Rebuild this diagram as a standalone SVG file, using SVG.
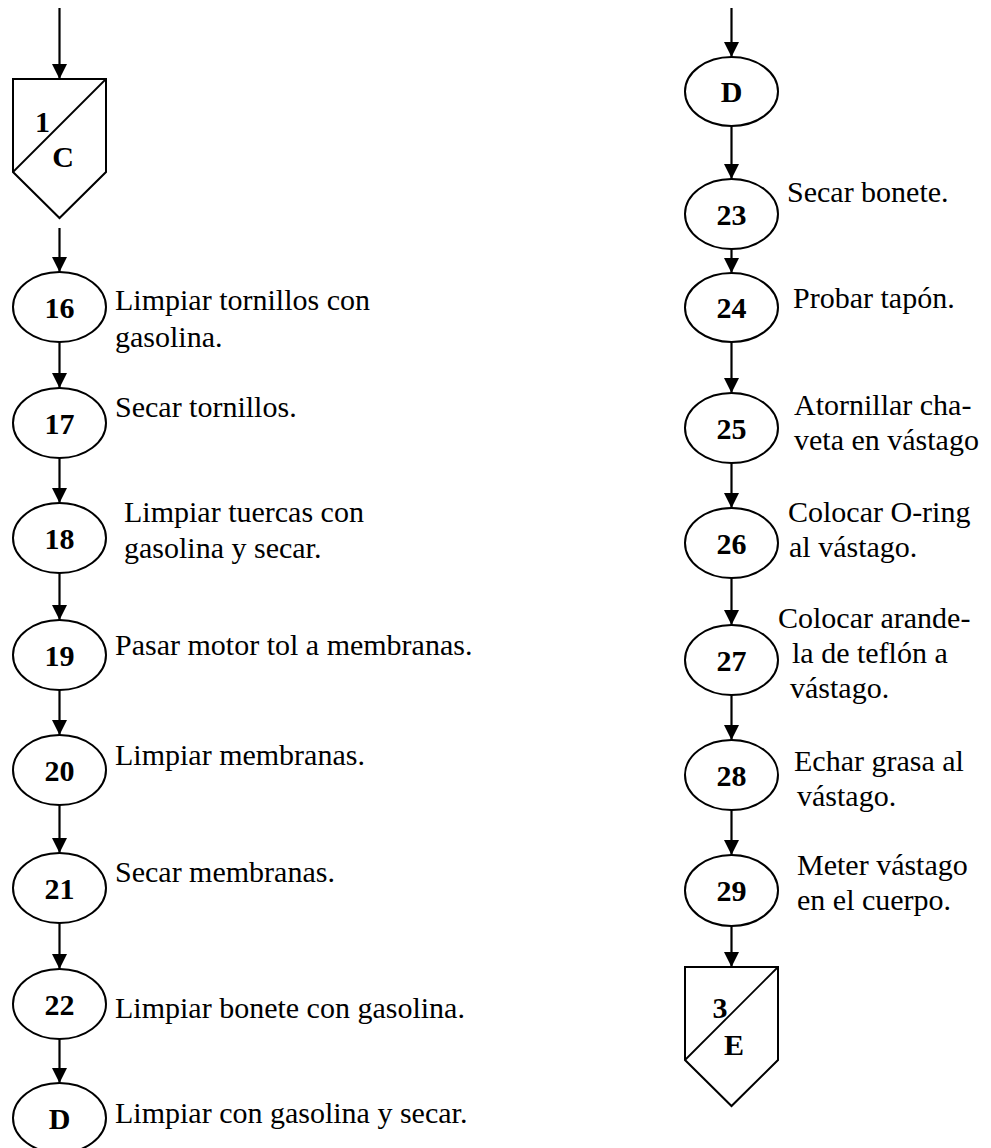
<svg xmlns="http://www.w3.org/2000/svg" width="991" height="1148" viewBox="0 0 991 1148">
<style>
.shape{fill:#fff;stroke:#000;stroke-width:2}
.diag{fill:none;stroke:#000;stroke-width:1.8}
.num{font-family:"Liberation Serif","Times New Roman",serif;font-size:30px;font-weight:bold;text-anchor:middle;fill:#000}
.lbl{font-family:"Liberation Serif","Times New Roman",serif;font-size:30px;fill:#000}
.conn line{stroke:#000;stroke-width:2.2;marker-end:url(#ah)}
</style>
<defs>
<marker id="ah" viewBox="0 0 15 15" refX="15" refY="7.5" markerWidth="15" markerHeight="15" markerUnits="userSpaceOnUse" orient="auto">
<path d="M0,0 L15,7.5 L0,15 Z" fill="#000"/>
</marker>
</defs>
<rect width="991" height="1148" fill="#fff"/>
<g class="conn" id="connectors">
<line x1="59.5" y1="8" x2="59.5" y2="79"/>
<line x1="59.5" y1="228" x2="59.5" y2="272"/>
<line x1="59.5" y1="342" x2="59.5" y2="388"/>
<line x1="59.5" y1="458" x2="59.5" y2="503"/>
<line x1="59.5" y1="573" x2="59.5" y2="620"/>
<line x1="59.5" y1="690" x2="59.5" y2="735"/>
<line x1="59.5" y1="805" x2="59.5" y2="853"/>
<line x1="59.5" y1="923" x2="59.5" y2="969"/>
<line x1="59.5" y1="1039" x2="59.5" y2="1083"/>
<line x1="731.5" y1="8" x2="731.5" y2="57"/>
<line x1="731.5" y1="126" x2="731.5" y2="179"/>
<line x1="731.5" y1="249" x2="731.5" y2="273"/>
<line x1="731.5" y1="342" x2="731.5" y2="393"/>
<line x1="731.5" y1="463" x2="731.5" y2="508"/>
<line x1="731.5" y1="578" x2="731.5" y2="625"/>
<line x1="731.5" y1="695" x2="731.5" y2="740"/>
<line x1="731.5" y1="810" x2="731.5" y2="855"/>
<line x1="731.5" y1="926" x2="731.5" y2="967"/>
</g>
<g id="conn-1C">
<path class="shape" d="M13,79 H106 V172 L59.5,218 L13,172 Z"/>
<line class="diag" x1="13" y1="172" x2="106" y2="79"/>
<text class="num" x="42.5" y="132">1</text>
<text class="num" x="63" y="167">C</text>
</g>
<g id="n16"><ellipse class="shape" cx="59.5" cy="307" rx="46.5" ry="35"/><text class="num" x="59.5" y="318">16</text>
<text class="lbl" x="115" y="310">Limpiar tornillos con</text><text class="lbl" x="115" y="347">gasolina.</text></g>
<g id="n17"><ellipse class="shape" cx="59.5" cy="423" rx="46.5" ry="35"/><text class="num" x="59.5" y="434">17</text>
<text class="lbl" x="115" y="417">Secar tornillos.</text></g>
<g id="n18"><ellipse class="shape" cx="59.5" cy="538" rx="46.5" ry="35"/><text class="num" x="59.5" y="549">18</text>
<text class="lbl" x="124" y="522">Limpiar tuercas con</text><text class="lbl" x="124" y="558">gasolina y secar.</text></g>
<g id="n19"><ellipse class="shape" cx="59.5" cy="655" rx="46.5" ry="35"/><text class="num" x="59.5" y="666">19</text>
<text class="lbl" x="115" y="655">Pasar motor tol a membranas.</text></g>
<g id="n20"><ellipse class="shape" cx="59.5" cy="770" rx="46.5" ry="35"/><text class="num" x="59.5" y="781">20</text>
<text class="lbl" x="115" y="765">Limpiar membranas.</text></g>
<g id="n21"><ellipse class="shape" cx="59.5" cy="888" rx="46.5" ry="35"/><text class="num" x="59.5" y="899">21</text>
<text class="lbl" x="115" y="882">Secar membranas.</text></g>
<g id="n22"><ellipse class="shape" cx="59.5" cy="1004" rx="46.5" ry="35"/><text class="num" x="59.5" y="1015">22</text>
<text class="lbl" x="115" y="1018">Limpiar bonete con gasolina.</text></g>
<g id="nD1"><ellipse class="shape" cx="59.5" cy="1118" rx="46.5" ry="35"/><text class="num" x="59.5" y="1129">D</text>
<text class="lbl" x="115" y="1123">Limpiar con gasolina y secar.</text></g>
<g id="nD2"><ellipse class="shape" cx="731.5" cy="91.5" rx="46.5" ry="34.5"/><text class="num" x="731.5" y="102">D</text></g>
<g id="n23"><ellipse class="shape" cx="731.5" cy="214" rx="46.5" ry="35"/><text class="num" x="731.5" y="225">23</text>
<text class="lbl" x="787" y="202">Secar bonete.</text></g>
<g id="n24"><ellipse class="shape" cx="731.5" cy="307.5" rx="46.5" ry="34.5"/><text class="num" x="731.5" y="318">24</text>
<text class="lbl" x="793" y="308">Probar tapón.</text></g>
<g id="n25"><ellipse class="shape" cx="731.5" cy="428" rx="46.5" ry="35"/><text class="num" x="731.5" y="439">25</text>
<text class="lbl" x="794" y="415">Atornillar cha-</text><text class="lbl" x="794" y="450">veta en vástago</text></g>
<g id="n26"><ellipse class="shape" cx="731.5" cy="543" rx="46.5" ry="35"/><text class="num" x="731.5" y="554">26</text>
<text class="lbl" x="788" y="522">Colocar O-ring</text><text class="lbl" x="789" y="557">al vástago.</text></g>
<g id="n27"><ellipse class="shape" cx="731.5" cy="660" rx="46.5" ry="35"/><text class="num" x="731.5" y="671">27</text>
<text class="lbl" x="778" y="628">Colocar arande-</text><text class="lbl" x="792" y="663">la de teflón a</text><text class="lbl" x="790" y="698">vástago.</text></g>
<g id="n28"><ellipse class="shape" cx="731.5" cy="775" rx="46.5" ry="35"/><text class="num" x="731.5" y="786">28</text>
<text class="lbl" x="794" y="771">Echar grasa al</text><text class="lbl" x="797" y="806">vástago.</text></g>
<g id="n29"><ellipse class="shape" cx="731.5" cy="890.5" rx="46.5" ry="35.5"/><text class="num" x="731.5" y="901">29</text>
<text class="lbl" x="797" y="875">Meter vástago</text><text class="lbl" x="797" y="910">en el cuerpo.</text></g>
<g id="conn-3E">
<path class="shape" d="M685,967 H778 V1060 L731.5,1106 L685,1060 Z"/>
<line class="diag" x1="685" y1="1060" x2="778" y2="967"/>
<text class="num" x="720" y="1018">3</text>
<text class="num" x="734" y="1055">E</text>
</g>
</svg>
